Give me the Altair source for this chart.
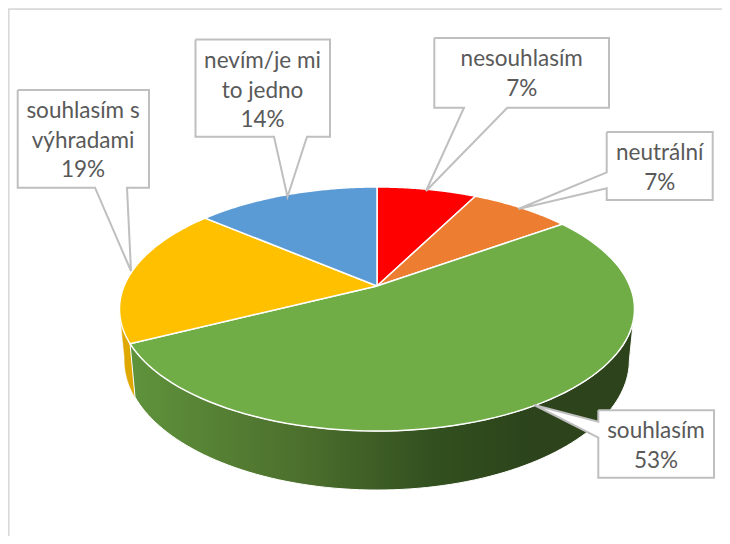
import math
import altair as alt
import pandas as pd

# Data
categories = ["nesouhlasím", "neutrální", "souhlasím", "souhlasím s výhradami", "nevím/je mi to jedno"]
values = [7.5, 7.6, 52.5, 18.6, 13.8]
colors = ["#ff0000", "#ed7d31", "#70ad47", "#ffc000", "#5b9bd5"]
label_texts = ["nesouhlasím\n7%", "neutrální\n7%", "souhlasím\n53%", "souhlasím s\nvýhradami\n19%", "nevím/je mi\nto jedno\n14%"]
label_x = [521.7, 659.7, 656, 83, 262.5]
label_y = [59, 153, 431, 111, 61]
# callout outlines (box + pointer), page pixels
callouts = [
    [(434.3, 38), (609, 38), (609, 107.7), (507.3, 107.7), (426, 191), (464, 107.7), (434.3, 107.7)],
    [(606.7, 132), (712.7, 132), (712.7, 200), (606.7, 200), (606.7, 188.3), (518.3, 209), (606.7, 172.3)],
    [(598.3, 410.3), (714, 410.3), (714, 477.7), (598.3, 477.7), (598.3, 437.7), (534.3, 405), (598.3, 421.7)],
    [(17.7, 90), (149, 90), (149, 187.7), (127, 187.7), (131, 271), (95, 187.7), (17.7, 187.7)],
    [(195.5, 39.5), (330, 39.5), (330, 136.7), (307, 136.7), (287.5, 196.7), (274, 136.7), (195.5, 136.7)],
]

W, H = 714, 528
CX, CY = 377.0, 286.0
A, B, K = 252.9, 117.7, 0.1885


def rim(deg, low=False):
    t = math.radians(deg)
    u, v = math.sin(t), math.cos(t)
    d = 1 + K * v
    X, Y = A * u / d, -B * v / d
    if low:
        X, Y = 0.98 * X, 1.064 * Y + 49.7
    return CX + X, CY + Y


def arc_pts(a0, a1, low=False, n=90):
    return [rim(a0 + (a1 - a0) * i / n, low) for i in range(n + 1)]


xs = alt.X("x:Q", scale=alt.Scale(domain=[8, 8 + W], range=[0, W]), axis=None)
ys = alt.Y("y:Q", scale=alt.Scale(domain=[8, 8 + H], range=[0, H]), axis=None)


def poly(pts, **mark):
    closed = list(pts) + [pts[0]]
    df = pd.DataFrame({"x": [p[0] for p in closed], "y": [p[1] for p in closed], "i": range(len(closed))})
    return alt.Chart(df).mark_line(**mark).encode(x=xs, y=ys, order="i:Q")


cum = [0]
for v in values:
    cum.append(cum[-1] + v)
ang = [c * 3.6 for c in cum]

layers = []
# frame
layers.append(alt.Chart(pd.DataFrame({"x": [8.7, 8.7, 722], "y": [536, 9.2, 9.2], "i": [0, 1, 2]}))
              .mark_line(stroke="#d9d9d9", strokeWidth=1.8).encode(x=xs, y=ys, order="i:Q"))

# sides
yellow_side = arc_pts(ang[3], 260) + arc_pts(260, ang[3], True)
layers.append(poly(yellow_side, fill="#dfa800", stroke="#dfa800", strokeWidth=0.5))
green_grad = alt.Gradient(gradient="linear", x1=0, x2=1, y1=0, y2=0, stops=[
    alt.GradientStop(color="#5f933b", offset=0),
    alt.GradientStop(color="#4c6f2d", offset=0.34),
    alt.GradientStop(color="#32501f", offset=0.6),
    alt.GradientStop(color="#2c431b", offset=0.8),
    alt.GradientStop(color="#2c431b", offset=1),
])
green_side = arc_pts(ang[3], 101) + arc_pts(101, ang[3], True)
layers.append(poly(green_side, fill=green_grad, stroke="white", strokeWidth=1))

# top slices
for i in range(len(values)):
    pts = [(CX, CY)] + arc_pts(ang[i], ang[i + 1])
    layers.append(poly(pts, fill=colors[i], stroke="white", strokeWidth=1.5))

# callouts
for c in callouts:
    layers.append(poly(c, fill="white", stroke="#bfbfbf", strokeWidth=2))

labels = pd.DataFrame({"x": label_x, "y": label_y, "t": label_texts})
layers.append(alt.Chart(labels).mark_text(font="Lato", fontSize=22.5, color="#595959", align="center",
                                          baseline="middle", lineBreak="\n", lineHeight=29.5)
              .encode(x=xs, y=ys, text="t:N"))

chart = alt.layer(*layers).properties(
    width=W, height=H, padding=0, background="white",
    autosize=alt.AutoSizeParams(type="none"),
).configure_view(stroke=None)

chart.save("out.html", embed_options={"renderer": "svg", "actions": False})
